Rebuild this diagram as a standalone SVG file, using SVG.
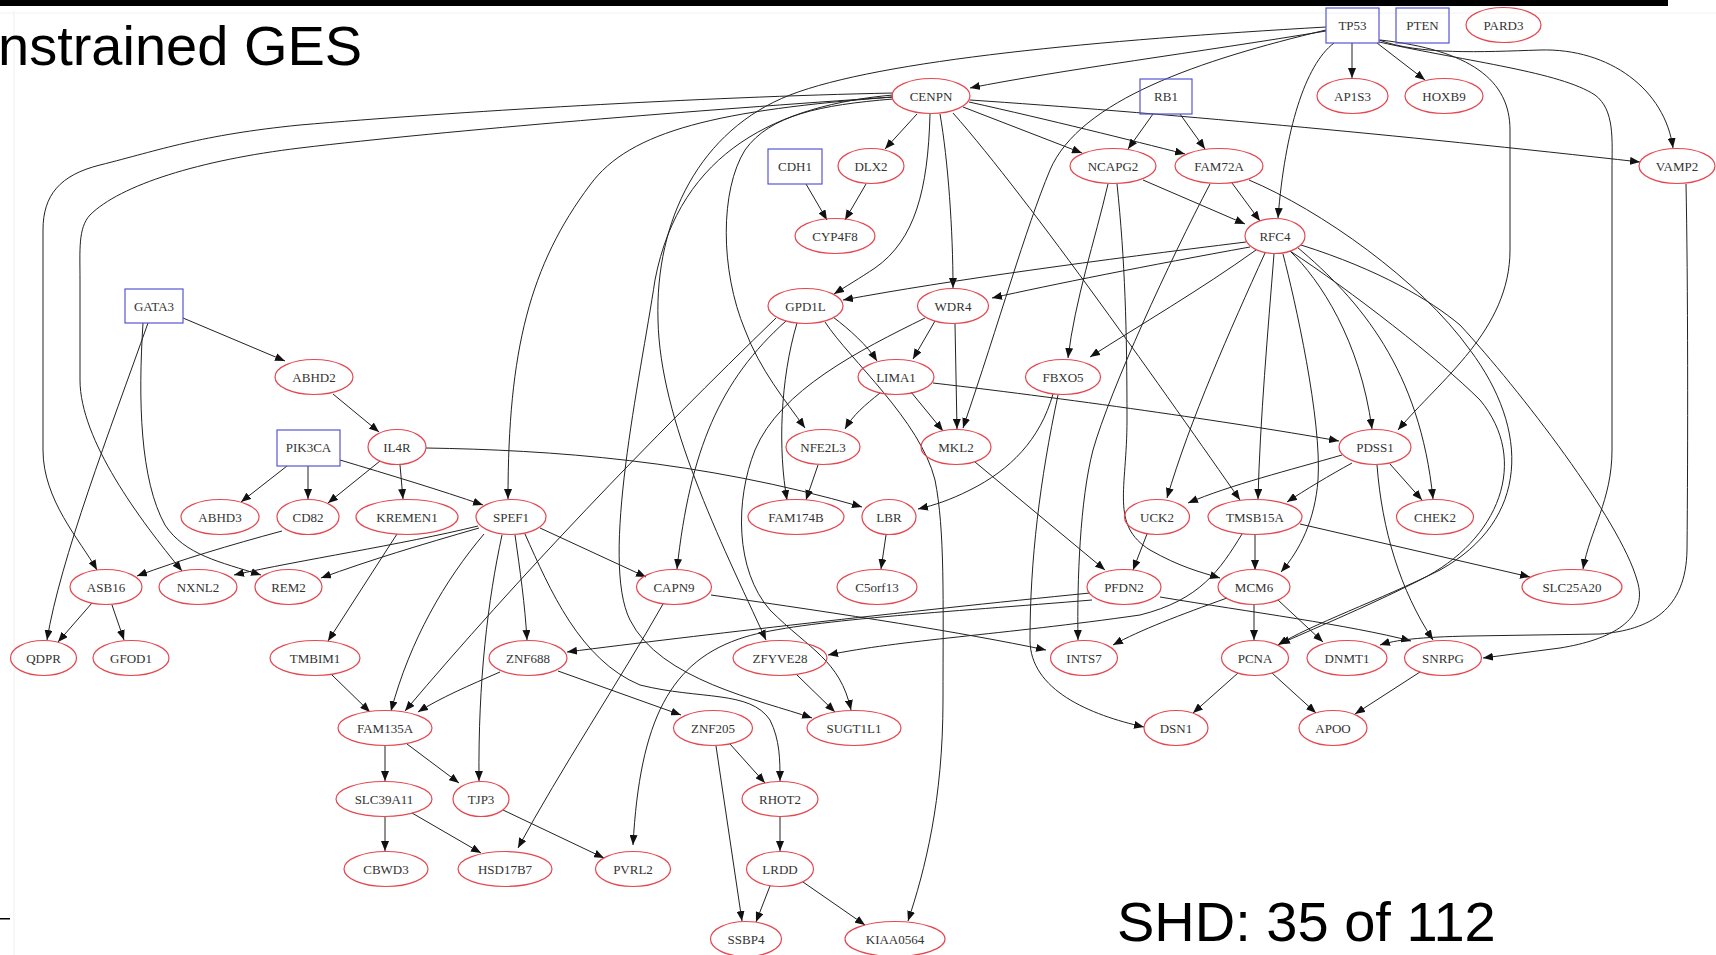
<svg xmlns="http://www.w3.org/2000/svg" width="1716" height="955" viewBox="0 0 1716 955">
<defs>
<marker id="a" markerWidth="10" markerHeight="8" refX="10" refY="4" orient="auto" markerUnits="userSpaceOnUse"><path d="M0,0 L10,4 L0,8 z" fill="#111"/></marker>
<style>
.n ellipse{fill:none;stroke:#e5474f;stroke-width:1.2}
.b rect{fill:none;stroke:#5656d6;stroke-width:1.2}
.n text,.b text{font-family:"Liberation Serif","Times New Roman",serif;font-size:13px;fill:#333;text-anchor:middle}
#edges path{fill:none;stroke:#222;stroke-width:1;marker-end:url(#a)}
.big{font-family:"Liberation Sans",Arial,sans-serif;font-size:56px;fill:#000}
</style>
</defs>
<rect width="1716" height="955" fill="#fff"/>
<rect x="0" y="0" width="1668" height="6" fill="#000"/>
<line x1="14" y1="10" x2="14" y2="955" stroke="#efefef" stroke-width="1"/>
<line x1="0" y1="13" x2="1716" y2="13" stroke="#f2f2f2" stroke-width="1"/>
<rect x="0" y="918" width="10" height="1.5" fill="#000"/>
<text class="big" x="-2" y="65">nstrained GES</text>
<text class="big" x="1117" y="941">SHD: 35 of 112</text>

<g id="edges">
<path d="M1352,43 L1352,78"/>
<path d="M1377,43 L1425,80"/>
<path d="M1326,31 C1200,52 1060,70 970,88"/>
<path d="M1379,40 C1420,55 1480,52 1540,50 C1610,48 1665,90 1673,148"/>
<path d="M1379,42 C1470,62 1560,72 1595,95 C1615,110 1612,140 1612,170 L1612,450 C1612,500 1590,530 1583,569"/>
<path d="M1380,40 C1470,50 1510,80 1510,130 L1510,250 C1510,330 1440,380 1398,430"/>
<path d="M1334,43 C1305,65 1285,130 1278,218"/>
<path d="M1326,30 C1200,60 1080,100 1050,170 C1025,230 1000,320 963,428"/>
<path d="M1326,27 C1100,40 880,60 790,95 C700,130 655,220 658,320 C660,420 720,540 766,640"/>
<path d="M893,95 C780,105 680,150 655,280 C640,380 600,560 630,620 C660,680 760,700 812,718"/>
<path d="M893,93 C700,97 450,112 300,125 C200,135 160,150 100,165 C60,175 43,195 43,230 L43,450 C43,500 80,540 97,570"/>
<path d="M893,97 C700,110 450,130 300,148 C200,160 120,185 90,215 C78,228 80,250 80,280 L80,380 C80,440 140,520 182,571"/>
<path d="M893,97 C720,110 630,130 590,185 C530,265 508,350 508,499"/>
<path d="M917,114 L885,149"/>
<path d="M963,107 L1082,153"/>
<path d="M969,102 C1050,120 1130,140 1185,154"/>
<path d="M970,100 C1150,112 1400,135 1640,162"/>
<path d="M940,114 C948,160 953,230 953,288"/>
<path d="M930,114 C928,190 915,240 875,268 C860,278 845,287 834,294"/>
<path d="M953,113 C1030,200 1170,400 1240,500"/>
<path d="M893,99 C820,105 770,115 745,150 C720,190 720,270 745,330 C760,370 785,400 805,428"/>
<path d="M833,317 C850,330 867,345 877,361"/>
<path d="M797,323 C780,380 778,450 787,500"/>
<path d="M786,321 C720,380 690,450 677,569"/>
<path d="M776,318 C650,440 520,575 405,711"/>
<path d="M825,322 C850,360 920,420 935,480 C945,530 943,600 943,700 C943,800 925,870 908,921"/>
<path d="M935,321 L913,359"/>
<path d="M955,324 L957,429"/>
<path d="M925,318 C860,350 780,390 755,450 C735,500 735,570 770,610 C810,650 840,660 851,710"/>
<path d="M1143,180 L1245,224"/>
<path d="M1108,184 C1095,240 1075,300 1068,358"/>
<path d="M1117,184 C1125,260 1127,330 1127,420 C1127,490 1110,525 1150,550 C1180,567 1200,572 1220,578"/>
<path d="M1232,183 L1260,221"/>
<path d="M1210,184 C1170,260 1110,390 1093,450 C1080,500 1077,580 1078,640"/>
<path d="M1249,180 C1320,210 1420,280 1470,350 C1530,430 1530,520 1440,570 C1380,600 1310,625 1278,645"/>
<path d="M1290,251 C1350,290 1440,360 1480,400 C1530,460 1500,540 1420,580 C1360,610 1310,630 1280,644"/>
<path d="M1153,114 L1128,149"/>
<path d="M1180,114 L1205,149"/>
<path d="M806,184 L827,220"/>
<path d="M866,184 L845,220"/>
<path d="M1246,242 C1100,260 950,280 843,300"/>
<path d="M1250,247 C1150,265 1050,285 992,298"/>
<path d="M1256,250 C1200,290 1140,325 1090,357"/>
<path d="M1265,253 C1230,330 1190,420 1167,498"/>
<path d="M1274,254 C1268,330 1260,420 1258,499"/>
<path d="M1283,254 C1295,300 1322,420 1318,480 C1315,520 1300,550 1281,572"/>
<path d="M1290,251 C1320,280 1360,340 1372,429"/>
<path d="M1297,247 C1360,300 1420,370 1433,499"/>
<path d="M1301,245 C1380,270 1430,300 1460,325 C1520,390 1620,520 1637,580 C1650,620 1610,640 1560,648 L1483,658"/>
<path d="M1342,455 C1290,470 1230,485 1188,503"/>
<path d="M1352,463 C1330,475 1305,490 1287,502"/>
<path d="M1390,464 L1422,500"/>
<path d="M1377,465 C1382,530 1400,590 1433,640"/>
<path d="M933,383 C1080,400 1250,425 1339,441"/>
<path d="M911,392 L943,431"/>
<path d="M880,393 C865,405 853,415 845,429"/>
<path d="M818,465 L806,500"/>
<path d="M1053,394 C1040,440 1010,470 970,490 C950,500 935,505 918,509"/>
<path d="M1058,395 C1040,480 1030,560 1030,640 C1030,690 1090,715 1144,727"/>
<path d="M975,462 L1105,570"/>
<path d="M1147,534 L1133,570"/>
<path d="M1090,593 C900,612 700,635 567,652"/>
<path d="M1092,600 C950,612 800,620 745,637 C670,660 640,720 633,845"/>
<path d="M1160,597 C1250,612 1350,625 1411,641"/>
<path d="M711,595 C850,615 960,632 1046,650"/>
<path d="M663,604 C620,680 560,770 518,848"/>
<path d="M1255,535 L1255,570"/>
<path d="M1300,524 L1530,577"/>
<path d="M1242,534 C1220,570 1200,600 1140,615 C1000,635 900,640 828,655"/>
<path d="M1254,605 L1254,640"/>
<path d="M1278,600 L1323,642"/>
<path d="M1227,598 C1180,615 1140,630 1113,645"/>
<path d="M1686,184 C1688,280 1688,450 1687,550 C1686,610 1650,630 1600,634 L1470,636 C1420,637 1395,640 1380,645"/>
<path d="M1238,673 L1193,713"/>
<path d="M1272,673 L1316,713"/>
<path d="M1420,672 L1355,714"/>
<path d="M183,318 L285,361"/>
<path d="M148,323 C110,430 60,560 47,640"/>
<path d="M143,323 C138,400 140,480 165,525 C185,555 220,562 261,575"/>
<path d="M333,394 L379,432"/>
<path d="M287,466 L241,502"/>
<path d="M308,466 L308,499"/>
<path d="M340,460 C390,475 440,490 483,505"/>
<path d="M380,461 L328,503"/>
<path d="M400,465 L403,499"/>
<path d="M426,448 C550,450 700,460 862,507"/>
<path d="M282,531 C230,545 180,560 137,576"/>
<path d="M397,534 L328,641"/>
<path d="M92,603 L58,642"/>
<path d="M112,605 L124,640"/>
<path d="M478,526 C400,545 300,560 234,575"/>
<path d="M479,528 C420,545 370,560 321,578"/>
<path d="M540,528 L646,577"/>
<path d="M484,534 C445,580 410,640 391,711"/>
<path d="M502,535 C488,600 478,680 479,781"/>
<path d="M515,535 C520,570 525,605 527,640"/>
<path d="M525,534 C550,590 580,660 640,685 C700,700 750,690 770,720 C780,740 780,760 780,781"/>
<path d="M385,746 L385,781"/>
<path d="M407,744 L459,783"/>
<path d="M332,675 L370,712"/>
<path d="M500,672 C470,685 440,698 418,712"/>
<path d="M558,671 L681,715"/>
<path d="M385,817 L385,851"/>
<path d="M412,813 L481,853"/>
<path d="M503,810 L604,858"/>
<path d="M730,744 L765,783"/>
<path d="M716,746 L742,921"/>
<path d="M780,817 L780,851"/>
<path d="M770,886 L756,922"/>
<path d="M803,882 L865,925"/>
<path d="M797,675 L835,712"/>
<path d="M886,535 L881,569"/>
</g>

<g id="n-TP53" class="b"><rect x="1326" y="8" width="53" height="35"/><text x="1352.5" y="30">TP53</text></g>
<g id="n-PTEN" class="b"><rect x="1396" y="8" width="53" height="35"/><text x="1422.5" y="30">PTEN</text></g>
<g id="n-RB1" class="b"><rect x="1140" y="79" width="52" height="35"/><text x="1166" y="101">RB1</text></g>
<g id="n-CDH1" class="b"><rect x="768" y="149" width="54" height="35"/><text x="795" y="171">CDH1</text></g>
<g id="n-GATA3" class="b"><rect x="125" y="289" width="58" height="34"/><text x="154" y="311">GATA3</text></g>
<g id="n-PIK3CA" class="b"><rect x="277" y="430" width="63" height="36"/><text x="308.5" y="452">PIK3CA</text></g>

<g id="n-PARD3" class="n"><ellipse cx="1503.5" cy="25" rx="37.5" ry="17.5"/><text x="1503.5" y="30">PARD3</text></g>
<g id="n-CENPN" class="n"><ellipse cx="931" cy="96" rx="39" ry="17.5"/><text x="931" y="101">CENPN</text></g>
<g id="n-AP1S3" class="n"><ellipse cx="1352.5" cy="96" rx="35.5" ry="17.5"/><text x="1352.5" y="101">AP1S3</text></g>
<g id="n-HOXB9" class="n"><ellipse cx="1444" cy="96" rx="39" ry="17.5"/><text x="1444" y="101">HOXB9</text></g>
<g id="n-DLX2" class="n"><ellipse cx="871" cy="166" rx="33" ry="17.5"/><text x="871" y="171">DLX2</text></g>
<g id="n-NCAPG2" class="n"><ellipse cx="1113" cy="166" rx="43" ry="17.5"/><text x="1113" y="171">NCAPG2</text></g>
<g id="n-FAM72A" class="n"><ellipse cx="1219" cy="166" rx="44" ry="17.5"/><text x="1219" y="171">FAM72A</text></g>
<g id="n-VAMP2" class="n"><ellipse cx="1677" cy="166" rx="38" ry="17.5"/><text x="1677" y="171">VAMP2</text></g>
<g id="n-CYP4F8" class="n"><ellipse cx="835" cy="236" rx="40" ry="17.5"/><text x="835" y="241">CYP4F8</text></g>
<g id="n-RFC4" class="n"><ellipse cx="1275" cy="236" rx="30" ry="17.5"/><text x="1275" y="241">RFC4</text></g>
<g id="n-GPD1L" class="n"><ellipse cx="805.5" cy="306" rx="37.5" ry="17.5"/><text x="805.5" y="311">GPD1L</text></g>
<g id="n-WDR4" class="n"><ellipse cx="953" cy="306" rx="35.5" ry="17.5"/><text x="953" y="311">WDR4</text></g>
<g id="n-ABHD2" class="n"><ellipse cx="314" cy="377" rx="39" ry="17.5"/><text x="314" y="382">ABHD2</text></g>
<g id="n-LIMA1" class="n"><ellipse cx="896" cy="377" rx="38" ry="17.5"/><text x="896" y="382">LIMA1</text></g>
<g id="n-FBXO5" class="n"><ellipse cx="1063" cy="377" rx="37.5" ry="17.5"/><text x="1063" y="382">FBXO5</text></g>
<g id="n-IL4R" class="n"><ellipse cx="397" cy="447" rx="29" ry="17.5"/><text x="397" y="452">IL4R</text></g>
<g id="n-NFE2L3" class="n"><ellipse cx="823" cy="447" rx="37" ry="17.5"/><text x="823" y="452">NFE2L3</text></g>
<g id="n-MKL2" class="n"><ellipse cx="956" cy="447" rx="35" ry="17.5"/><text x="956" y="452">MKL2</text></g>
<g id="n-PDSS1" class="n"><ellipse cx="1375" cy="447" rx="36" ry="17.5"/><text x="1375" y="452">PDSS1</text></g>
<g id="n-ABHD3" class="n"><ellipse cx="220" cy="517" rx="39" ry="17.5"/><text x="220" y="522">ABHD3</text></g>
<g id="n-CD82" class="n"><ellipse cx="308" cy="517" rx="31" ry="17.5"/><text x="308" y="522">CD82</text></g>
<g id="n-KREMEN1" class="n"><ellipse cx="407" cy="517" rx="51" ry="17.5"/><text x="407" y="522">KREMEN1</text></g>
<g id="n-SPEF1" class="n"><ellipse cx="511" cy="517" rx="35" ry="17.5"/><text x="511" y="522">SPEF1</text></g>
<g id="n-FAM174B" class="n"><ellipse cx="796" cy="517" rx="48" ry="17.5"/><text x="796" y="522">FAM174B</text></g>
<g id="n-LBR" class="n"><ellipse cx="889" cy="517" rx="27" ry="17.5"/><text x="889" y="522">LBR</text></g>
<g id="n-UCK2" class="n"><ellipse cx="1157" cy="517" rx="32.5" ry="17.5"/><text x="1157" y="522">UCK2</text></g>
<g id="n-TMSB15A" class="n"><ellipse cx="1255" cy="517" rx="47" ry="17.5"/><text x="1255" y="522">TMSB15A</text></g>
<g id="n-CHEK2" class="n"><ellipse cx="1435" cy="517" rx="38.5" ry="17.5"/><text x="1435" y="522">CHEK2</text></g>
<g id="n-ASB16" class="n"><ellipse cx="106" cy="587" rx="36" ry="17.5"/><text x="106" y="592">ASB16</text></g>
<g id="n-NXNL2" class="n"><ellipse cx="198" cy="587" rx="39" ry="17.5"/><text x="198" y="592">NXNL2</text></g>
<g id="n-REM2" class="n"><ellipse cx="288.5" cy="587" rx="33.5" ry="17.5"/><text x="288.5" y="592">REM2</text></g>
<g id="n-CAPN9" class="n"><ellipse cx="674" cy="587" rx="37.5" ry="17.5"/><text x="674" y="592">CAPN9</text></g>
<g id="n-C5orf13" class="n"><ellipse cx="877" cy="587" rx="40" ry="17.5"/><text x="877" y="592">C5orf13</text></g>
<g id="n-PFDN2" class="n"><ellipse cx="1124" cy="587" rx="37" ry="17.5"/><text x="1124" y="592">PFDN2</text></g>
<g id="n-MCM6" class="n"><ellipse cx="1254" cy="587" rx="36" ry="17.5"/><text x="1254" y="592">MCM6</text></g>
<g id="n-SLC25A20" class="n"><ellipse cx="1572" cy="587" rx="50" ry="17.5"/><text x="1572" y="592">SLC25A20</text></g>
<g id="n-QDPR" class="n"><ellipse cx="43.5" cy="658" rx="33" ry="17.5"/><text x="43.5" y="663">QDPR</text></g>
<g id="n-GFOD1" class="n"><ellipse cx="131" cy="658" rx="38" ry="17.5"/><text x="131" y="663">GFOD1</text></g>
<g id="n-TMBIM1" class="n"><ellipse cx="315" cy="658" rx="45" ry="17.5"/><text x="315" y="663">TMBIM1</text></g>
<g id="n-ZNF688" class="n"><ellipse cx="528" cy="658" rx="39" ry="17.5"/><text x="528" y="663">ZNF688</text></g>
<g id="n-ZFYVE28" class="n"><ellipse cx="780" cy="658" rx="47" ry="17.5"/><text x="780" y="663">ZFYVE28</text></g>
<g id="n-INTS7" class="n"><ellipse cx="1084" cy="658" rx="33.5" ry="17.5"/><text x="1084" y="663">INTS7</text></g>
<g id="n-PCNA" class="n"><ellipse cx="1255" cy="658" rx="33.5" ry="17.5"/><text x="1255" y="663">PCNA</text></g>
<g id="n-DNMT1" class="n"><ellipse cx="1347" cy="658" rx="40" ry="17.5"/><text x="1347" y="663">DNMT1</text></g>
<g id="n-SNRPG" class="n"><ellipse cx="1443" cy="658" rx="38.5" ry="17.5"/><text x="1443" y="663">SNRPG</text></g>
<g id="n-FAM135A" class="n"><ellipse cx="385" cy="728" rx="47" ry="17.5"/><text x="385" y="733">FAM135A</text></g>
<g id="n-ZNF205" class="n"><ellipse cx="713" cy="728" rx="39.5" ry="17.5"/><text x="713" y="733">ZNF205</text></g>
<g id="n-SUGT1L1" class="n"><ellipse cx="854" cy="728" rx="47" ry="17.5"/><text x="854" y="733">SUGT1L1</text></g>
<g id="n-DSN1" class="n"><ellipse cx="1176" cy="728" rx="32" ry="17.5"/><text x="1176" y="733">DSN1</text></g>
<g id="n-APOO" class="n"><ellipse cx="1333" cy="728" rx="34" ry="17.5"/><text x="1333" y="733">APOO</text></g>
<g id="n-SLC39A11" class="n"><ellipse cx="384" cy="799" rx="48" ry="17.5"/><text x="384" y="804">SLC39A11</text></g>
<g id="n-TJP3" class="n"><ellipse cx="481" cy="799" rx="28" ry="17.5"/><text x="481" y="804">TJP3</text></g>
<g id="n-RHOT2" class="n"><ellipse cx="780" cy="799" rx="38" ry="17.5"/><text x="780" y="804">RHOT2</text></g>
<g id="n-CBWD3" class="n"><ellipse cx="386" cy="869" rx="42" ry="17.5"/><text x="386" y="874">CBWD3</text></g>
<g id="n-HSD17B7" class="n"><ellipse cx="505" cy="869" rx="47" ry="17.5"/><text x="505" y="874">HSD17B7</text></g>
<g id="n-PVRL2" class="n"><ellipse cx="633" cy="869" rx="37.5" ry="17.5"/><text x="633" y="874">PVRL2</text></g>
<g id="n-LRDD" class="n"><ellipse cx="780" cy="869" rx="33.5" ry="17.5"/><text x="780" y="874">LRDD</text></g>
<g id="n-SSBP4" class="n"><ellipse cx="746" cy="939" rx="35.5" ry="17.5"/><text x="746" y="944">SSBP4</text></g>
<g id="n-KIAA0564" class="n"><ellipse cx="895" cy="939" rx="50" ry="17.5"/><text x="895" y="944">KIAA0564</text></g>
</svg>
